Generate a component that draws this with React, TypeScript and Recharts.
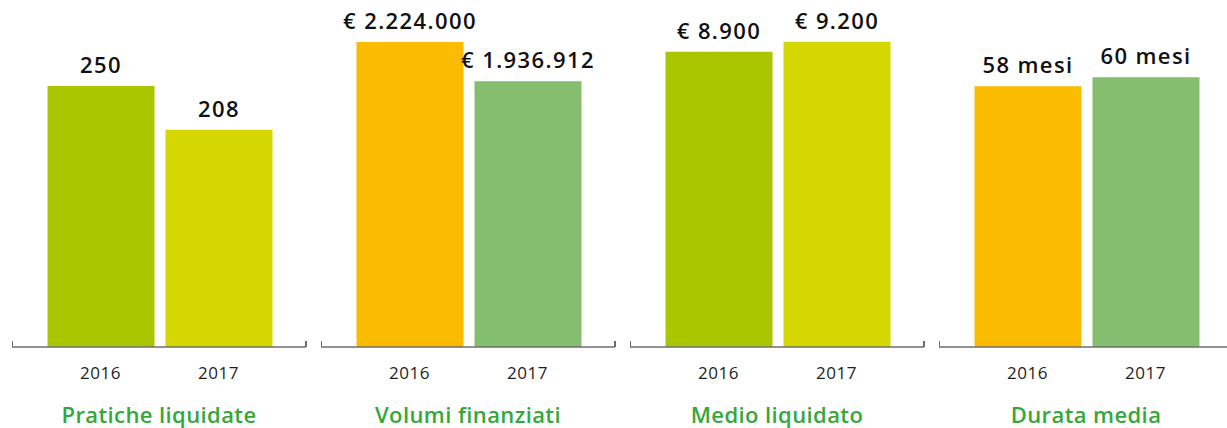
import React from 'react';
import { BarChart, Bar, XAxis, YAxis, Cell, LabelList } from 'recharts';

const years = ['2016', '2017'];

const praticheValues = [250, 208];
const volumiValues = [2224000, 1936912];
const medioValues = [8900, 9200];
const durataValues = [58, 60];

const titles = ['Pratiche liquidate', 'Volumi finanziati', 'Medio liquidato', 'Durata media'];

const GREEN = '#a9c600';
const LIME = '#d4d800';
const ORANGE = '#fbbb00';
const SOFT = '#84be6e';

const fmtThousands = (v: number) => v.toString().replace(/\B(?=(\d{3})+(?!\d))/g, '.');

interface PanelDef {
  title: string;
  values: number[];
  colors: string[];
  max: number;
  format: (v: number) => string;
}

const panels: PanelDef[] = [
  { title: titles[0], values: praticheValues, colors: [GREEN, LIME], max: 313.2, format: (v) => String(v) },
  { title: titles[1], values: volumiValues, colors: [ORANGE, SOFT], max: 2384400, format: (v) => '€ ' + fmtThousands(v) },
  { title: titles[2], values: medioValues, colors: [GREEN, LIME], max: 9854, format: (v) => '€ ' + fmtThousands(v) },
  { title: titles[3], values: durataValues, colors: [ORANGE, SOFT], max: 72.75, format: (v) => v + ' mesi' },
];

const FONT = '"Open Sans", Lato, sans-serif';
const PANEL_W = 309;
const H = 428;

const Panel: React.FC<{ p: PanelDef }> = ({ p }) => {
  const data = years.map((y, i) => ({ year: y, value: p.values[i] }));
  return (
    <div style={{ position: 'relative', width: PANEL_W, height: H, flex: '0 0 auto' }}>
      <BarChart width={PANEL_W} height={H} data={data} margin={{ top: 20, right: 3, bottom: 0, left: 12 }}>
        <YAxis hide domain={[0, p.max]} />
        <XAxis
          dataKey="year"
          height={81}
          padding={{ left: 29.5, right: 28.5 }}
          tickLine={false}
          axisLine={{ stroke: '#6e6e6e', strokeWidth: 1.5 }}
          tickMargin={14}
          tick={{ fill: '#1e1e1e', fontSize: 17, fontFamily: FONT, letterSpacing: 0.5 }}
          label={{
            value: p.title,
            position: 'insideBottom',
            offset: 5,
            fill: '#34a83a',
            fontSize: 22,
            fontFamily: FONT,
            fontWeight: 600,
            letterSpacing: 0.4,
          }}
        />
        <Bar dataKey="value" barSize={107} isAnimationActive={false}>
          {data.map((d, i) => (
            <Cell key={d.year} fill={p.colors[i]} />
          ))}
          <LabelList
            dataKey="value"
            position="top"
            offset={13}
            formatter={(v: any) => p.format(Number(v))}
            style={{ fill: '#111', fontSize: 22, fontFamily: FONT, fontWeight: 600, letterSpacing: 1.4 }}
          />
        </Bar>
      </BarChart>
      {/* little end marks on the axis line */}
      <div style={{ position: 'absolute', left: 11.5, top: 341, width: 1.5, height: 6, background: '#6e6e6e' }} />
      <div style={{ position: 'absolute', left: 305, top: 341, width: 1.5, height: 6, background: '#6e6e6e' }} />
    </div>
  );
};

export default function App() {
  return (
    <div
      style={{
        position: 'absolute',
        left: 0,
        top: 0,
        width: 1227,
        height: H,
        overflow: 'hidden',
        display: 'flex',
        background: '#fff',
      }}
    >
      {panels.map((p) => (
        <Panel key={p.title} p={p} />
      ))}
    </div>
  );
}
